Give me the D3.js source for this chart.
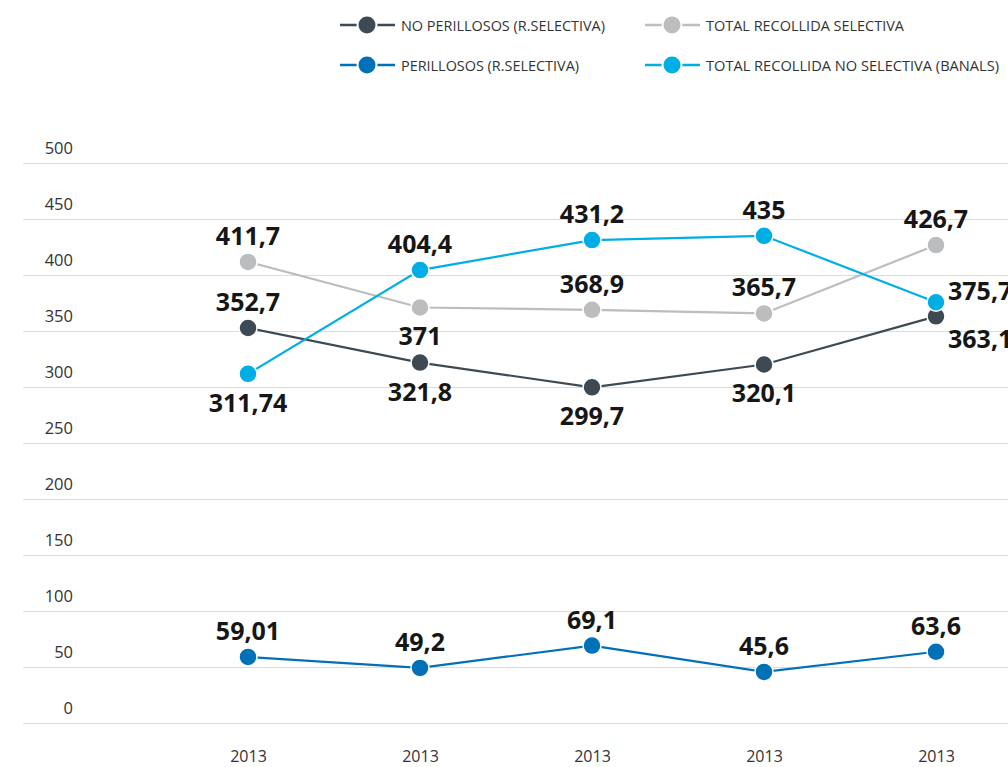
<!DOCTYPE html>
<html>
<head>
<meta charset="utf-8">
<script src="https://cdn.jsdelivr.net/npm/d3@7/dist/d3.min.js"></script>
<style>
  html, body { margin: 0; padding: 0; background: #fff; overflow: hidden; }
  svg { display: block; }
</style>
</head>
<body>
<svg id="chart" width="1008" height="767"></svg>
<script>
// Categories along the x axis
const categories = ["2013", "2013", "2013", "2013", "2013"];

// Series values
const noPerillosos = [352.7, 321.8, 299.7, 320.1, 363.1];
const perillosos = [59.01, 49.2, 69.1, 45.6, 63.6];
const totalSelectiva = [411.7, 371, 368.9, 365.7, 426.7];
const totalNoSelectiva = [311.74, 404.4, 431.2, 435, 375.7];

// Value label text, as printed
const noPerillososLabels = ["352,7", "321,8", "299,7", "320,1", "363,1"];
const perillososLabels = ["59,01", "49,2", "69,1", "45,6", "63,6"];
const totalSelectivaLabels = ["411,7", "371", "368,9", "365,7", "426,7"];
const totalNoSelectivaLabels = ["311,74", "404,4", "431,2", "435", "375,7"];

// Y axis tick values
const yTicks = [0, 50, 100, 150, 200, 250, 300, 350, 400, 450, 500];

// Where each value label sits relative to its point
const placeNoPerillosos = ["above", "below", "below", "below", "rightLow"];
const placePerillosos = ["above", "above", "above", "above", "above"];
const placeTotalSelectiva = ["above", "below", "above", "above", "above"];
const placeTotalNoSelectiva = ["below", "above", "above", "above", "rightHigh"];

const series = [
  { name: "NO PERILLOSOS (R.SELECTIVA)", values: noPerillosos, labels: noPerillososLabels, place: placeNoPerillosos, color: "#3d4a53" },
  { name: "TOTAL RECOLLIDA SELECTIVA", values: totalSelectiva, labels: totalSelectivaLabels, place: placeTotalSelectiva, color: "#bcbdbf" },
  { name: "PERILLOSOS (R.SELECTIVA)", values: perillosos, labels: perillososLabels, place: placePerillosos, color: "#0071b6" },
  { name: "TOTAL RECOLLIDA NO SELECTIVA (BANALS)", values: totalNoSelectiva, labels: totalNoSelectivaLabels, place: placeTotalNoSelectiva, color: "#00aee6" }
];

const svg = d3.select("#chart");

const x = d3.scalePoint()
  .domain(d3.range(categories.length))
  .range([248, 936]);

const y = d3.scaleLinear()
  .domain([0, 500])
  .range([723, 163]);

// Horizontal grid lines with tick labels sitting above each line
const yAxis = svg.append("g")
  .attr("transform", "translate(1008,0)")
  .call(d3.axisLeft(y).tickValues(yTicks).tickSize(985).tickFormat(d => d));
yAxis.select(".domain").remove();
yAxis.selectAll(".tick line").attr("stroke", "#dcdcdc").attr("stroke-width", 1);
yAxis.selectAll(".tick text")
  .attr("x", -935)
  .attr("dy", "-10px")
  .attr("text-anchor", "end")
  .attr("font-family", "'Open Sans', sans-serif")
  .attr("font-size", 16.5)
  .attr("fill", "#333");

// X axis labels
const xAxis = svg.append("g")
  .attr("transform", "translate(0,762)")
  .call(d3.axisBottom(x).tickSize(0).tickFormat(i => categories[i]));
xAxis.select(".domain").remove();
xAxis.selectAll(".tick text")
  .attr("y", 0)
  .attr("dy", 0)
  .attr("font-family", "'Open Sans', sans-serif")
  .attr("font-size", 16)
  .attr("fill", "#333");

const line = d3.line()
  .x((d, i) => x(i))
  .y(d => y(d));

const layer = svg.append("g");

series.forEach(s => {
  const g = layer.append("g");
  g.append("path")
    .datum(s.values)
    .attr("fill", "none")
    .attr("stroke", s.color)
    .attr("stroke-width", 2.2)
    .attr("d", line);
  g.selectAll("circle")
    .data(s.values)
    .join("circle")
    .attr("cx", (d, i) => x(i))
    .attr("cy", d => y(d))
    .attr("r", 9)
    .attr("fill", s.color)
    .attr("stroke", "#fff")
    .attr("stroke-width", 1.5);
});

// Value labels
series.forEach(s => {
  svg.append("g").selectAll("text")
    .data(s.values)
    .join("text")
    .attr("x", (d, i) => s.place[i].startsWith("right") ? x(i) + 12 : x(i))
    .attr("y", (d, i) => {
      const p = s.place[i];
      const cy = y(d);
      if (p === "above") return cy - 17;
      if (p === "below") return cy + 38;
      if (p === "rightHigh") return cy - 2;
      if (p === "rightLow") return cy + 32;
      return cy;
    })
    .attr("text-anchor", (d, i) => s.place[i].startsWith("right") ? "start" : "middle")
    .attr("font-family", "'Open Sans', sans-serif")
    .attr("font-weight", 700)
    .attr("font-size", 25)
    .attr("fill", "#161616")
    .text((d, i) => s.labels[i]);
});

// Legend
const legendItems = [
  { s: series[0], x: 340, y: 25, w: 204 },
  { s: series[1], x: 645, y: 25, w: 198 },
  { s: series[2], x: 340, y: 65, w: 178 },
  { s: series[3], x: 645, y: 65, w: 293 }
];
const legend = svg.append("g");
legendItems.forEach(it => {
  const g = legend.append("g").attr("transform", `translate(${it.x},${it.y})`);
  g.append("line")
    .attr("x1", 0).attr("x2", 55)
    .attr("y1", 0).attr("y2", 0)
    .attr("stroke", it.s.color)
    .attr("stroke-width", 2.5);
  g.append("circle")
    .attr("cx", 27).attr("cy", 0).attr("r", 9.5)
    .attr("fill", it.s.color)
    .attr("stroke", "#fff")
    .attr("stroke-width", 2);
  g.append("text")
    .attr("x", 61).attr("y", 5.5)
    .attr("font-family", "'Open Sans', sans-serif")
    .attr("font-size", 15)
    .attr("fill", "#333")
    .attr("textLength", it.w)
    .attr("lengthAdjust", "spacingAndGlyphs")
    .text(it.s.name);
});
</script>
</body>
</html>
